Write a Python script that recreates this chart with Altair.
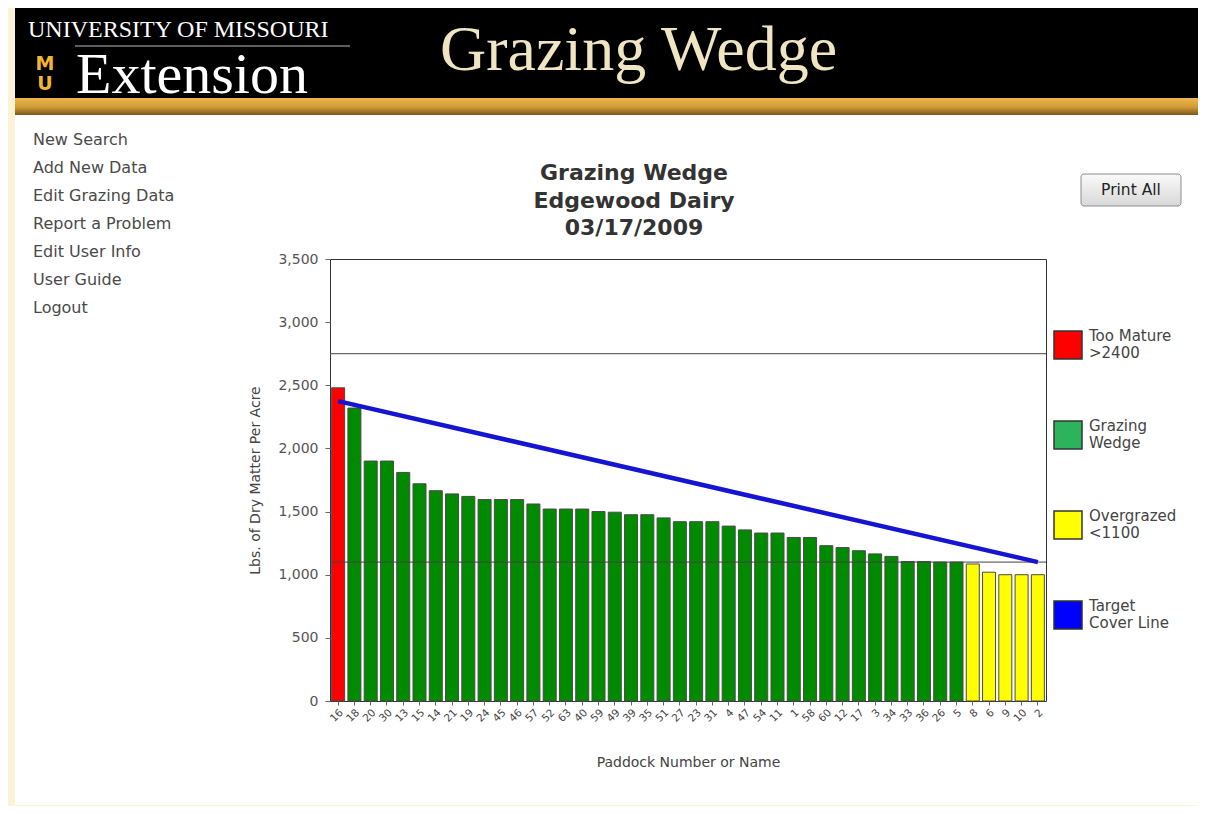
import altair as alt
import pandas as pd

# ---------------- data ----------------
paddocks = ["16", "18", "20", "30", "13", "15", "14", "21", "19", "24",
            "45", "46", "57", "52", "63", "40", "59", "49", "39", "35",
            "51", "27", "23", "31", "4", "47", "54", "11", "1", "58",
            "60", "12", "17", "3", "34", "33", "36", "26", "5", "8",
            "6", "9", "10", "2"]
dry_matter = [2480, 2320, 1900, 1900, 1810, 1720, 1665, 1640, 1620, 1595,
              1595, 1595, 1560, 1520, 1520, 1520, 1500, 1495, 1475, 1475,
              1450, 1420, 1420, 1420, 1385, 1355, 1330, 1330, 1295, 1295,
              1230, 1215, 1190, 1165, 1145, 1105, 1105, 1100, 1100, 1085,
              1020, 1000, 1000, 1000]

status_names = ["Too Mature", "Grazing Wedge", "Overgrazed"]
bar_colors = ["#FF0000", "#008A00", "#FFFF00"]

legend_names = ["Too Mature", "Grazing Wedge", "Overgrazed", "Target Cover Line"]
legend_lines = [["Too Mature", ">2400"], ["Grazing", "Wedge"],
                ["Overgrazed", "<1100"], ["Target", "Cover Line"]]
legend_colors = ["#FF0000", "#2DB35C", "#FFFF00", "#0000FF"]

target_paddocks = ["16", "2"]
target_values = [2375, 1100]
reference_levels = [2750, 1100]
y_ticks = [0, 500, 1000, 1500, 2000, 2500, 3000, 3500]

title_lines = ["Grazing Wedge", "Edgewood Dairy", "03/17/2009"]
menu_items = ["New Search", "Add New Data", "Edit Grazing Data", "Report a Problem",
              "Edit User Info", "User Guide", "Logout"]

# ---------------- tables ----------------
def status_of(v):
    if v > 2400:
        return "Too Mature"
    if v < 1100:
        return "Overgrazed"
    return "Grazing Wedge"

bars_df = pd.DataFrame({"paddock": paddocks, "dm": dry_matter,
                        "status": [status_of(v) for v in dry_matter]})
target_df = pd.DataFrame({"paddock": target_paddocks, "dm": target_values})
levels_df = pd.DataFrame({"level": reference_levels})
legend_df = pd.DataFrame({"status": legend_names})

W, H = 716, 442
SANS = "DejaVu Sans"
SERIF = "Liberation Serif"

label_expr = " : ".join(
    f"datum.label == '{n}' ? {lines!r}" for n, lines in zip(legend_names[:-1], legend_lines[:-1])
) + f" : {legend_lines[-1]!r}"


def deco():
    return alt.Chart(pd.DataFrame({"k": [0]}))


# ---------------- page chrome (decoration) ----------------
cream_left = deco().mark_rect(fill="#FBF3D6").encode(
    x=alt.value(-322), x2=alt.value(-315), y=alt.value(-251), y2=alt.value(547))
cream_bottom = deco().mark_rect(fill="#FBF3D6").encode(
    x=alt.value(-322), x2=alt.value(870), y=alt.value(546), y2=alt.value(547))
header_black = deco().mark_rect(fill="#000000").encode(
    x=alt.value(-315), x2=alt.value(868), y=alt.value(-251), y2=alt.value(-161))
gold = deco().mark_rect(fill=alt.LinearGradient(
    gradient="linear", x1=0, x2=0, y1=0, y2=1,
    stops=[alt.GradientStop(color="#EDB650", offset=0),
           alt.GradientStop(color="#CF9A35", offset=0.55),
           alt.GradientStop(color="#7A561C", offset=1)])).encode(
    x=alt.value(-315), x2=alt.value(868), y=alt.value(-161), y2=alt.value(-144))

univ = deco().mark_text(font=SERIF, fontSize=24, color="#FFFFFF", align="left",
                        baseline="alphabetic").encode(
    x=alt.value(-302), y=alt.value(-222), text=alt.value("UNIVERSITY OF MISSOURI"))
underline = deco().mark_rule(color="#BBBBBB", strokeWidth=1).encode(
    x=alt.value(-255), x2=alt.value(20), y=alt.value(-213))
extension = deco().mark_text(font=SERIF, fontSize=58, color="#FFFFFF", align="left",
                             baseline="alphabetic").encode(
    x=alt.value(-254), y=alt.value(-166), text=alt.value("Extension"))
logo = deco().mark_text(font=SANS, fontSize=19, fontWeight="bold", color="#F1B82D",
                        align="center", baseline="alphabetic", lineHeight=20).encode(
    x=alt.value(-285), y=alt.value(-189), text=alt.value(["M", "U"]))
app_name = deco().mark_text(font=SERIF, fontSize=64, color="#F0E5C2", align="left",
                            baseline="alphabetic").encode(
    x=alt.value(110), y=alt.value(-189), text=alt.value("Grazing Wedge"))

menu = deco().mark_text(font=SANS, fontSize=16, color="#4A4A4A", align="left",
                        baseline="middle", lineHeight=28).encode(
    x=alt.value(-297), y=alt.value(-119), text=alt.value(menu_items))

button = deco().mark_rect(cornerRadius=3, stroke="#8C8C8C", strokeWidth=1,
                          fill=alt.LinearGradient(
                              gradient="linear", x1=0, x2=0, y1=0, y2=1,
                              stops=[alt.GradientStop(color="#FAFAFA", offset=0),
                                     alt.GradientStop(color="#D8D8D8", offset=1)])).encode(
    x=alt.value(751), x2=alt.value(851), y=alt.value(-85), y2=alt.value(-53))
button_text = deco().mark_text(font=SANS, fontSize=15.5, color="#222222", align="center",
                               baseline="middle").encode(
    x=alt.value(801), y=alt.value(-69), text=alt.value("Print All"))

# chart title (three centred bold lines above the plot)
chart_title = deco().mark_text(font=SANS, fontSize=22, fontWeight="bold", color="#333333",
                               align="center", baseline="middle", lineHeight=27.5).encode(
    x=alt.value(304), y=alt.value(-86), text=alt.value(title_lines))

# ---------------- chart ----------------
x_enc = alt.X("paddock:N", sort=None,
              scale=alt.Scale(domain=paddocks, paddingInner=0.2, paddingOuter=0.1),
              axis=alt.Axis(title="Paddock Number or Name", labelAngle=-45, labelFont=SANS,
                            labelFontSize=10.5, labelColor="#444444", tickSize=4,
                            tickColor="#666666", domain=False, labelPadding=2,
                            titleFont=SANS, titleFontSize=14, titleFontWeight="normal",
                            titleColor="#444444", titleY=61, titleBaseline="middle"))
y_enc = alt.Y("dm:Q", scale=alt.Scale(domain=[0, 3500], nice=False),
              axis=alt.Axis(title="Lbs. of Dry Matter Per Acre", values=y_ticks, format=",d",
                            grid=False, domain=False, tickSize=5, tickColor="#666666",
                            labelFont=SANS, labelFontSize=14, labelColor="#555555",
                            labelPadding=7, titleFont=SANS, titleFontSize=14,
                            titleFontWeight="normal", titleColor="#444444",
                            titleX=-75, titleY=221, titleBaseline="middle"))

bars = alt.Chart(bars_df).mark_bar(stroke="#4A4A4A", strokeWidth=1).encode(
    x=x_enc, y=y_enc,
    color=alt.Color("status:N", scale=alt.Scale(domain=status_names, range=bar_colors),
                    legend=None))

levels = alt.Chart(levels_df).mark_rule(color="#444444", strokeWidth=1).encode(
    y=alt.Y("level:Q"))

target = alt.Chart(target_df).mark_line(color="#1414D2", strokeWidth=4.5).encode(
    x=alt.X("paddock:N", sort=None), y=alt.Y("dm:Q"))

legend_layer = alt.Chart(legend_df).mark_square(opacity=0).encode(
    fill=alt.Fill("status:N", scale=alt.Scale(domain=legend_names, range=legend_colors),
                  legend=alt.Legend(title=None, orient="none", legendX=723, legendY=71,
                                    direction="vertical", symbolType="square",
                                    symbolSize=784, symbolOpacity=1,
                                    symbolStrokeColor="#333333", symbolStrokeWidth=1.5,
                                    labelFont=SANS, labelFontSize=15, labelColor="#444444",
                                    labelOffset=6, labelLimit=200,
                                    labelBaseline="line-bottom",
                                    labelExpr=label_expr, rowPadding=56, padding=0)))

chart = alt.layer(
    cream_left, cream_bottom, header_black, gold, univ, underline, extension,
    logo, app_name, menu, button, button_text, chart_title,
    bars, levels, target, legend_layer
).properties(
    width=W, height=H,
    padding={"left": 322, "top": 251, "right": 152, "bottom": 105},
    autosize=alt.AutoSizeParams(type="none"),
).configure(background="#FFFFFF").configure_view(stroke="#333333", strokeWidth=1)

chart.save("out.html", embed_options={"renderer": "svg", "actions": False})
